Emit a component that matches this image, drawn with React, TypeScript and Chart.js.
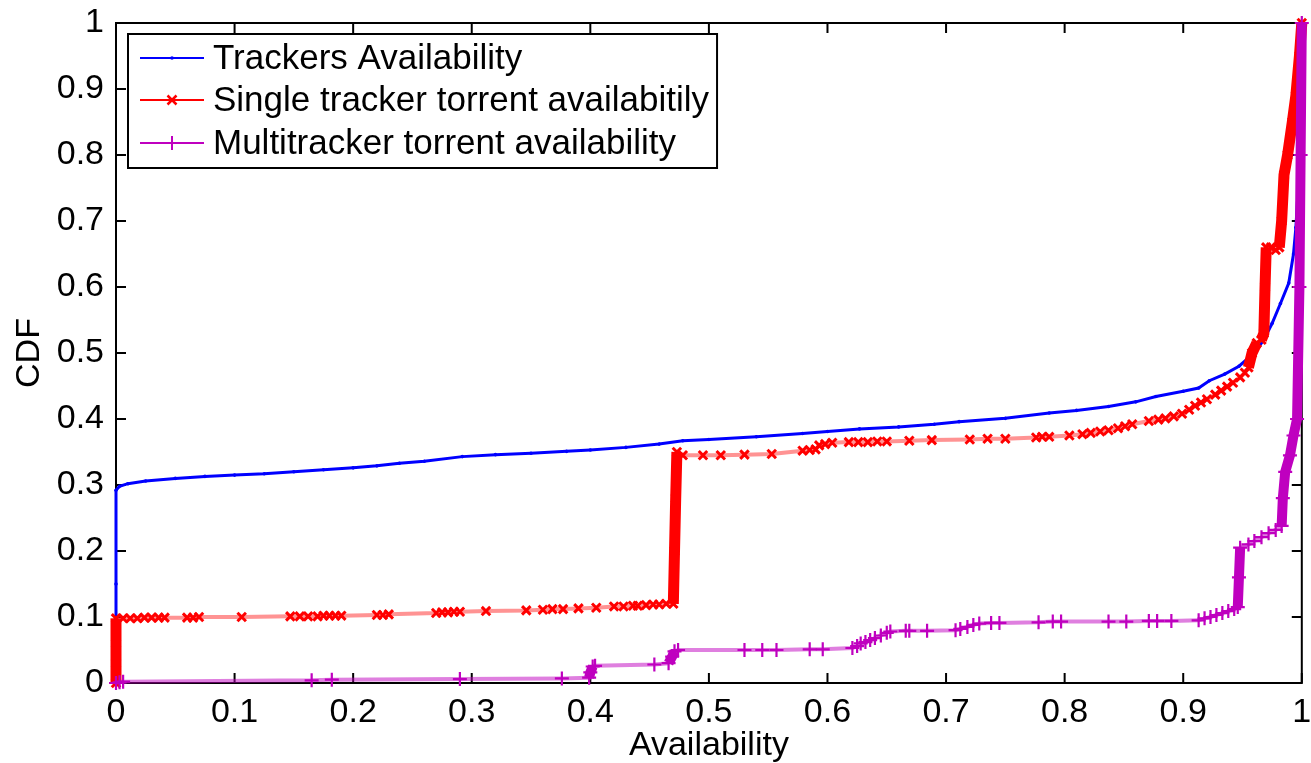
import React, { useEffect, useRef } from "react";
import { Chart, registerables } from "chart.js";

Chart.register(...registerables);

// ---- data ----
const xTickValues = [0, 0.1, 0.2, 0.3, 0.4, 0.5, 0.6, 0.7, 0.8, 0.9, 1];
const yTickValues = [0, 0.1, 0.2, 0.3, 0.4, 0.5, 0.6, 0.7, 0.8, 0.9, 1];

const seriesLabels = [
  "Trackers Availability",
  "Single tracker torrent availabitily",
  "Multitracker torrent availability",
];
const xAxisTitle = "Availability";
const yAxisTitle = "CDF";

// [availability, CDF]
const trackersPoints = [
  [0, 0], [0, 0.15], [0, 0.292], [0.003, 0.298], [0.01, 0.302], [0.025, 0.306],
  [0.05, 0.31], [0.075, 0.313], [0.1, 0.315], [0.125, 0.317], [0.15, 0.32],
  [0.175, 0.323], [0.2, 0.326], [0.22, 0.329], [0.239, 0.333], [0.26, 0.336],
  [0.292, 0.343], [0.32, 0.346], [0.35, 0.348], [0.38, 0.351], [0.4, 0.353],
  [0.43, 0.357], [0.458, 0.362], [0.478, 0.367], [0.5, 0.369], [0.54, 0.373],
  [0.579, 0.378], [0.6, 0.381], [0.627, 0.385], [0.66, 0.388], [0.69, 0.392],
  [0.711, 0.396], [0.75, 0.401], [0.787, 0.409], [0.81, 0.413], [0.837, 0.419],
  [0.86, 0.426], [0.877, 0.434], [0.9, 0.442], [0.913, 0.447], [0.922, 0.458],
  [0.935, 0.468], [0.947, 0.48], [0.96, 0.5], [0.968, 0.52], [0.975, 0.545],
  [0.982, 0.575], [0.989, 0.606], [0.993, 0.65], [0.995, 0.69], [0.997, 0.75],
  [0.999, 0.85], [1, 1],
];

const singlePoints = [
  [0, 0], [0, 0.03], [0, 0.06], [0, 0.098], [0.006, 0.098], [0.012, 0.098],
  [0.018, 0.098], [0.024, 0.099], [0.03, 0.099], [0.036, 0.099], [0.041, 0.099],
  [0.06, 0.099], [0.065, 0.099], [0.07, 0.1], [0.106, 0.1], [0.147, 0.101],
  [0.155, 0.101], [0.162, 0.101], [0.17, 0.101], [0.175, 0.102], [0.18, 0.102],
  [0.185, 0.102], [0.19, 0.102], [0.22, 0.103], [0.225, 0.103], [0.23, 0.104],
  [0.27, 0.106], [0.275, 0.107], [0.28, 0.107], [0.285, 0.108], [0.29, 0.108],
  [0.312, 0.109], [0.346, 0.11], [0.36, 0.111], [0.368, 0.112], [0.377, 0.112],
  [0.39, 0.113], [0.405, 0.114], [0.42, 0.116], [0.428, 0.116], [0.436, 0.117],
  [0.44, 0.117], [0.447, 0.118], [0.453, 0.119], [0.458, 0.119], [0.464, 0.12],
  [0.47, 0.12], [0.471, 0.2], [0.472, 0.28], [0.473, 0.35], [0.478, 0.345],
  [0.495, 0.345], [0.51, 0.345], [0.53, 0.346], [0.553, 0.347], [0.579, 0.352],
  [0.585, 0.353], [0.59, 0.354], [0.593, 0.36], [0.598, 0.362], [0.604, 0.364],
  [0.618, 0.365], [0.626, 0.365], [0.634, 0.365], [0.642, 0.366], [0.65, 0.366],
  [0.669, 0.367], [0.688, 0.368], [0.72, 0.369], [0.735, 0.37], [0.75, 0.37],
  [0.776, 0.372], [0.781, 0.373], [0.787, 0.373], [0.804, 0.375], [0.815, 0.377],
  [0.822, 0.379], [0.83, 0.381], [0.837, 0.383], [0.845, 0.386], [0.851, 0.389],
  [0.857, 0.392], [0.871, 0.397], [0.879, 0.399], [0.885, 0.401], [0.892, 0.404],
  [0.899, 0.408], [0.905, 0.414], [0.91, 0.42], [0.915, 0.425], [0.92, 0.43],
  [0.927, 0.437], [0.932, 0.443], [0.937, 0.449], [0.942, 0.455], [0.948, 0.463],
  [0.952, 0.47], [0.955, 0.478], [0.958, 0.5], [0.962, 0.515], [0.966, 0.52],
  [0.968, 0.53], [0.969, 0.6], [0.97, 0.66], [0.974, 0.66], [0.978, 0.656],
  [0.981, 0.66], [0.983, 0.7], [0.985, 0.77], [0.988, 0.8], [0.992, 0.85],
  [0.995, 0.89], [0.998, 0.95], [1, 1],
];

const multiPoints = [
  [0, 0], [0.003, 0.001], [0.006, 0.002], [0.165, 0.004], [0.182, 0.005],
  [0.29, 0.006], [0.376, 0.007], [0.399, 0.008], [0.4, 0.016], [0.402, 0.025],
  [0.404, 0.026], [0.454, 0.028], [0.466, 0.03], [0.469, 0.04], [0.471, 0.048],
  [0.474, 0.05], [0.53, 0.05], [0.545, 0.05], [0.557, 0.05], [0.585, 0.051],
  [0.596, 0.051], [0.621, 0.053], [0.625, 0.056], [0.628, 0.06], [0.632, 0.062],
  [0.636, 0.065], [0.64, 0.068], [0.645, 0.072], [0.65, 0.076], [0.653, 0.078],
  [0.666, 0.079], [0.669, 0.079], [0.684, 0.079], [0.708, 0.08], [0.712, 0.082],
  [0.718, 0.085], [0.723, 0.088], [0.728, 0.09], [0.738, 0.091], [0.745, 0.091],
  [0.778, 0.092], [0.79, 0.093], [0.797, 0.093], [0.837, 0.093], [0.852, 0.093],
  [0.871, 0.094], [0.878, 0.094], [0.89, 0.094], [0.913, 0.095], [0.918, 0.098],
  [0.923, 0.1], [0.928, 0.103], [0.933, 0.106], [0.938, 0.109], [0.943, 0.112],
  [0.946, 0.115], [0.947, 0.16], [0.948, 0.205], [0.955, 0.21], [0.96, 0.215],
  [0.966, 0.221], [0.972, 0.227], [0.978, 0.232], [0.983, 0.238], [0.984, 0.28],
  [0.986, 0.32], [0.99, 0.345], [0.993, 0.375], [0.996, 0.4], [0.998, 0.6],
  [0.999, 0.8], [1, 1],
];

// ---- styles ----
const FONT = "'Liberation Sans', Arial, Helvetica, sans-serif";
const BLUE = "#0000ff";
const RED = "#ff0000";
const RED_LINE = "rgba(255, 40, 40, 0.5)";
const MAG = "#bf00bf";
const MAG_LINE = "rgba(191, 0, 191, 0.5)";

const toXY = (pts: number[][]) => pts.map(([x, y]) => ({ x, y }));
const fmt = (v: number) => {
  const r = Math.round(v * 10) / 10;
  return r === 0 ? "0" : r === 1 ? "1" : r.toFixed(1);
};

const isSteep = (ctx: any) => {
  const dx = Math.abs(ctx.p1.x - ctx.p0.x);
  const dy = Math.abs(ctx.p1.y - ctx.p0.y);
  return dy > 4 && dy > 1.5 * dx;
};

const framePlugin = {
  id: "matlabFrame",
  beforeDatasetsDraw(chart: any) {
    const { ctx, chartArea: a, scales } = chart;
    ctx.save();
    ctx.strokeStyle = "#000";
    ctx.lineWidth = 2;
    ctx.strokeRect(a.left, a.top, a.right - a.left, a.bottom - a.top);
    ctx.beginPath();
    const tl = 10;
    xTickValues.forEach((v) => {
      const px = scales.x.getPixelForValue(v);
      ctx.moveTo(px, a.bottom);
      ctx.lineTo(px, a.bottom - tl);
      ctx.moveTo(px, a.top);
      ctx.lineTo(px, a.top + tl);
    });
    yTickValues.forEach((v) => {
      const py = scales.y.getPixelForValue(v);
      ctx.moveTo(a.left, py);
      ctx.lineTo(a.left + tl, py);
      ctx.moveTo(a.right, py);
      ctx.lineTo(a.right - tl, py);
    });
    ctx.stroke();
    ctx.restore();
  },
  afterDatasetsDraw(chart: any) {
    const { ctx, chartArea: a } = chart;
    ctx.save();
    ctx.font = `35px ${FONT}`;
    const widths = seriesLabels.map((t) => ctx.measureText(t).width);
    const left = a.left + 12;
    const top = a.top + 11;
    const textX = left + 85;
    const w = textX - left + Math.max(...widths) + 8;
    const h = 134;
    ctx.fillStyle = "#fff";
    ctx.fillRect(left, top, w, h);
    ctx.strokeStyle = "#000";
    ctx.lineWidth = 2;
    ctx.strokeRect(left, top, w, h);
    const rows = [top + 24, top + 66, top + 109];
    const colors = [BLUE, RED, MAG];
    rows.forEach((ry, i) => {
      const c = colors[i];
      ctx.strokeStyle = c;
      ctx.lineWidth = 2;
      ctx.beginPath();
      ctx.moveTo(left + 12, ry);
      ctx.lineTo(left + 76, ry);
      ctx.stroke();
      const mx = left + 44;
      if (i === 0) {
        ctx.fillStyle = c;
        ctx.beginPath();
        ctx.arc(mx, ry, 1.8, 0, Math.PI * 2);
        ctx.fill();
      } else if (i === 1) {
        ctx.lineWidth = 2.5;
        ctx.beginPath();
        ctx.moveTo(mx - 4.5, ry - 4.5);
        ctx.lineTo(mx + 4.5, ry + 4.5);
        ctx.moveTo(mx - 4.5, ry + 4.5);
        ctx.lineTo(mx + 4.5, ry - 4.5);
        ctx.stroke();
      } else {
        ctx.beginPath();
        ctx.moveTo(mx, ry - 7);
        ctx.lineTo(mx, ry + 7);
        ctx.stroke();
      }
      ctx.fillStyle = "#000";
      ctx.textBaseline = "middle";
      ctx.textAlign = "left";
      ctx.fillText(seriesLabels[i], textX, ry + 1);
    });
    ctx.restore();
  },
};

export default function App() {
  const canvasRef = useRef<HTMLCanvasElement | null>(null);

  useEffect(() => {
    document.body.style.margin = "0";
    const canvas = canvasRef.current;
    if (!canvas) return;
    const tickFont = { family: FONT, size: 34 };
    const chart = new Chart(canvas, {
      type: "line",
      data: {
        datasets: [
          {
            label: seriesLabels[0],
            data: toXY(trackersPoints),
            borderColor: BLUE,
            backgroundColor: BLUE,
            borderWidth: 3,
            pointStyle: "circle",
            pointRadius: 1.8,
            pointBorderWidth: 0,
            pointBackgroundColor: BLUE,
            fill: false,
            tension: 0,
            order: 3,
            clip: false,
          },
          {
            label: seriesLabels[1],
            data: toXY(singlePoints),
            borderColor: RED_LINE,
            backgroundColor: RED,
            borderWidth: 4,
            pointStyle: "crossRot",
            pointRadius: 6,
            pointBorderWidth: 3,
            pointBorderColor: RED,
            fill: false,
            tension: 0,
            order: 2,
            clip: false,
            segment: {
              borderWidth: (c: any) => (isSteep(c) ? 11 : 4),
              borderColor: (c: any) => (isSteep(c) ? RED : RED_LINE),
            },
          },
          {
            label: seriesLabels[2],
            data: toXY(multiPoints),
            borderColor: MAG_LINE,
            backgroundColor: MAG,
            borderWidth: 4,
            pointStyle: "cross",
            pointRadius: 7,
            pointBorderWidth: 2.2,
            pointBorderColor: MAG,
            fill: false,
            tension: 0,
            order: 1,
            clip: false,
            segment: {
              borderWidth: (c: any) => (isSteep(c) ? 10 : 4),
              borderColor: (c: any) => (isSteep(c) ? MAG : MAG_LINE),
            },
          },
        ] as any,
      },
      options: {
        animation: false,
        responsive: false,
        maintainAspectRatio: false,
        events: [],
        layout: { padding: { top: 23, right: 8, left: 0, bottom: 0 } },
        plugins: {
          legend: { display: false },
          tooltip: { enabled: false },
          title: { display: false },
        },
        scales: {
          x: {
            type: "linear",
            min: 0,
            max: 1,
            afterFit: (s: any) => {
              s.height = 80;
              s.paddingLeft = 0;
              s.paddingRight = 0;
            },
            afterBuildTicks: (s: any) => {
              s.ticks = xTickValues.map((v) => ({ value: v }));
            },
            ticks: {
              font: tickFont,
              color: "#000",
              padding: 9,
              maxRotation: 0,
              autoSkip: false,
              callback: (v: any) => fmt(Number(v)),
            },
            grid: { display: false, drawTicks: false },
            border: { display: false },
            title: {
              display: true,
              text: xAxisTitle,
              color: "#000",
              font: { family: FONT, size: 34, lineHeight: 1 },
              padding: { top: 0, bottom: 0 },
            },
          },
          y: {
            type: "linear",
            min: 0,
            max: 1,
            afterFit: (s: any) => {
              s.width = 116;
              s.paddingTop = 0;
              s.paddingBottom = 0;
            },
            afterBuildTicks: (s: any) => {
              s.ticks = yTickValues.map((v) => ({ value: v }));
            },
            ticks: {
              font: tickFont,
              color: "#000",
              padding: 12,
              autoSkip: false,
              callback: (v: any) => fmt(Number(v)),
            },
            grid: { display: false, drawTicks: false },
            border: { display: false },
            title: {
              display: true,
              text: yAxisTitle,
              color: "#000",
              font: { family: FONT, size: 34, lineHeight: 1 },
              padding: { top: 13, bottom: 0 },
            },
          },
        },
      } as any,
      plugins: [framePlugin],
    });
    return () => chart.destroy();
  }, []);

  return (
    <div style={{ position: "relative", width: 1311, height: 763 }}>
      <canvas ref={canvasRef} width={1311} height={763} />
    </div>
  );
}
